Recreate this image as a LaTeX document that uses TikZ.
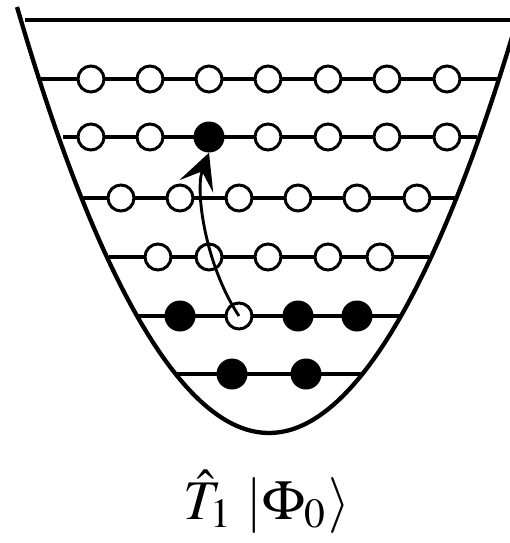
\documentclass[tikz,border=0pt]{standalone}
\usepackage{mathptmx}
\usetikzlibrary{arrows.meta}

\begin{document}
\begin{tikzpicture}[x=1pt,y=-1pt,
  well/.style={line width=4.3pt},
  level/.style={line width=3.8pt},
  empty/.style={circle,draw,line width=3pt,fill=white,
                minimum size=26pt,inner sep=0pt},
  full/.style={circle,fill=black,minimum size=31pt,inner sep=0pt},
  jump/.style={-{Stealth[length=36pt,width=36pt,inset=16pt]},line width=2.9pt}
]
\useasboundingbox (0,0) rectangle (510,543);
\clip (0,0) rectangle (510,543);

% potential well
\draw[well] (17,7) parabola bend (269,433) (521,7);
\draw[well] (25,20) -- (515,20);

% levels
\draw[level] (41,79) -- (497,79);
\draw[level] (63,137) -- (477,137);
\draw[level] (83,198) -- (455,198);
\draw[level] (109,257) -- (429,257);
\draw[level] (138,316) -- (400,316);
\draw[level] (177,374) -- (362,374);

% virtual orbitals
\node[empty] (e11) at (91,79) {};
\node[empty] (e12) at (150,79) {};
\node[empty] (e13) at (209,79) {};
\node[empty] (e14) at (268,79) {};
\node[empty] (e15) at (328,79) {};
\node[empty] (e16) at (387,79) {};
\node[empty] (e17) at (447,79) {};

\node[empty] (e21) at (91,137) {};
\node[empty] (e22) at (150,137) {};
\node[full]  (f23) at (209,137) {};
\node[empty] (e24) at (268,137) {};
\node[empty] (e25) at (328,137) {};
\node[empty] (e26) at (387,137) {};
\node[empty] (e27) at (447,137) {};

\node[empty] (e31) at (121,198) {};
\node[empty] (e32) at (180,198) {};
\node[empty] (e33) at (239,198) {};
\node[empty] (e34) at (298,198) {};
\node[empty] (e35) at (357,198) {};
\node[empty] (e36) at (417,198) {};

\node[empty] (e41) at (158,257) {};
\node[empty] (e42) at (209,257) {};
\node[empty] (e43) at (268,257) {};
\node[empty] (e44) at (328,257) {};
\node[empty] (e45) at (380,257) {};

% occupied orbitals
\node[full]  (f51) at (180,316) {};
\node[empty] (e52) at (239,316) {};
\node[full]  (f53) at (298,316) {};
\node[full]  (f54) at (357,316) {};

\node[full] (f61) at (232,374) {};
\node[full] (f62) at (306,374) {};

% single excitation
\draw[jump] (e52.center) .. controls (205,265) and (195,190) .. (f23.south);

\node[scale=5.6,anchor=base] (lbl) at (267,519) {$\hat{T}_1\;|\Phi_0\rangle$};
\end{tikzpicture}
\end{document}
